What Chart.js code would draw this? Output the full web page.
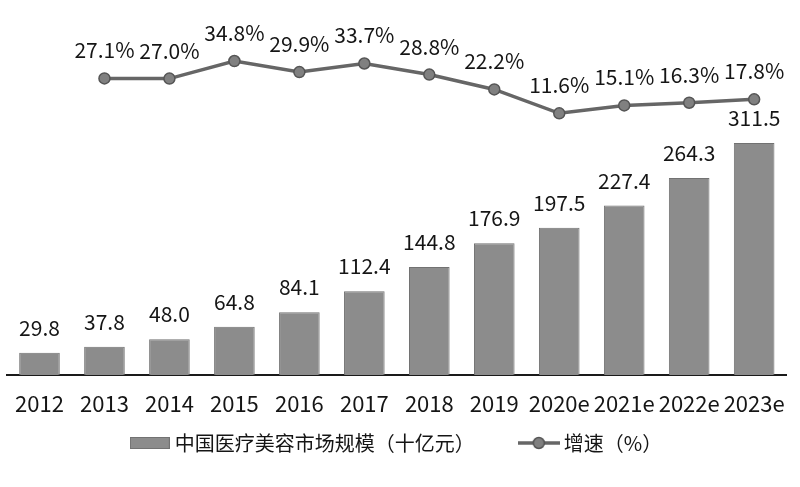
<!DOCTYPE html>
<html>
<head>
<meta charset="utf-8">
<script src="https://cdn.jsdelivr.net/npm/chart.js@4/dist/chart.umd.min.js"></script>
<style>
  html, body { margin: 0; padding: 0; background: #fff; }
  #wrap { width: 800px; height: 487px; }
</style>
</head>
<body>
<div id="wrap"><canvas id="c" width="800" height="487"></canvas></div>
<script>
const categories = ['2012','2013','2014','2015','2016','2017','2018','2019','2020e','2021e','2022e','2023e'];
const marketSize = [29.8, 37.8, 48.0, 64.8, 84.1, 112.4, 144.8, 176.9, 197.5, 227.4, 264.3, 311.5];
const growthRate = [null, 27.1, 27.0, 34.8, 29.9, 33.7, 28.8, 22.2, 11.6, 15.1, 16.3, 17.8];
const barLabel = '中国医疗美容市场规模（十亿元）';
const lineLabel = '增速（%）';

const FONT = '"Noto Sans CJK SC", "Noto Sans", sans-serif';
const TEXT = '#151515';
const BAR_FILL = '#8c8c8c';
const BAR_BORDER = '#727272';
const LINE_COLOR = '#666666';
const POINT_FILL = '#808080';
const POINT_BORDER = '#555555';

function makeBarSwatch() {
  const c = document.createElement('canvas');
  c.width = 40; c.height = 12;
  const x = c.getContext('2d');
  x.fillStyle = BAR_FILL; x.fillRect(0, 0, 40, 12);
  x.strokeStyle = BAR_BORDER; x.lineWidth = 1; x.strokeRect(0.5, 0.5, 39, 11);
  return c;
}
function makeLineSwatch() {
  const c = document.createElement('canvas');
  c.width = 42; c.height = 14;
  const x = c.getContext('2d');
  x.strokeStyle = LINE_COLOR; x.lineWidth = 3.5;
  x.beginPath(); x.moveTo(0, 7); x.lineTo(42, 7); x.stroke();
  x.beginPath(); x.arc(21, 7, 5.5, 0, Math.PI * 2);
  x.fillStyle = POINT_FILL; x.fill();
  x.strokeStyle = POINT_BORDER; x.lineWidth = 1.5; x.stroke();
  return c;
}
const barSwatch = makeBarSwatch();
const lineSwatch = makeLineSwatch();

const valueLabels = {
  id: 'valueLabels',
  afterLayout(chart) {
    // place legend row just below the x tick labels
    if (chart.legend) {
      chart.legend.top = 384;
      chart.legend.bottom = 487;
      chart.legend.height = 103;
    }
  },
  afterDatasetsDraw(chart) {
    const ctx = chart.ctx;
    ctx.save();
    ctx.font = '21px ' + FONT;
    ctx.fillStyle = TEXT;
    ctx.textAlign = 'center';
    ctx.textBaseline = 'middle';
    const barMeta = chart.getDatasetMeta(0);
    barMeta.data.forEach((el, i) => {
      ctx.fillText(marketSize[i].toFixed(1), el.x, el.y - 25);
    });
    const lineMeta = chart.getDatasetMeta(1);
    lineMeta.data.forEach((el, i) => {
      if (growthRate[i] == null) return;
      ctx.fillText(growthRate[i].toFixed(1) + '%', el.x, el.y - 28);
    });
    ctx.restore();
  }
};

new Chart(document.getElementById('c'), {
  type: 'bar',
  data: {
    labels: categories,
    datasets: [
      {
        type: 'bar',
        label: barLabel,
        data: marketSize,
        backgroundColor: BAR_FILL,
        borderColor: BAR_BORDER,
        borderWidth: 1,
        categoryPercentage: 1,
        barPercentage: 0.625,
        yAxisID: 'y',
        order: 2
      },
      {
        type: 'line',
        label: lineLabel,
        data: growthRate,
        borderColor: LINE_COLOR,
        borderWidth: 3.5,
        pointRadius: 5.5,
        pointBackgroundColor: POINT_FILL,
        pointBorderColor: POINT_BORDER,
        pointBorderWidth: 1.5,
        tension: 0,
        yAxisID: 'y1',
        order: 1
      }
    ]
  },
  options: {
    responsive: false,
    animation: false,
    devicePixelRatio: 1,
    layout: { padding: { top: 20, left: 5, right: 8, bottom: 0 } },
    plugins: {
      tooltip: { enabled: false },
      legend: {
        position: 'bottom',
        maxHeight: 30,
        labels: {
          color: TEXT,
          font: { size: 20, family: FONT },
          usePointStyle: true,
          pointStyleWidth: 30,
          padding: 49,
          generateLabels(chart) {
            return chart.data.datasets.map((ds, i) => ({
              text: ds.label,
              pointStyle: i === 0 ? barSwatch : lineSwatch,
              fillStyle: 'transparent',
              strokeStyle: 'transparent',
              lineWidth: 0,
              fontColor: TEXT,
              hidden: false,
              datasetIndex: i
            }));
          }
        }
      }
    },
    scales: {
      x: {
        grid: { display: false, drawTicks: false },
        border: { display: true, color: '#1a1a1a', width: 2 },
        ticks: { color: TEXT, font: { size: 22, family: FONT }, padding: 15, maxRotation: 0, autoSkip: false },
        afterFit(scale) { scale.height = 82; }
      },
      y: {
        display: false,
        min: 0,
        max: 476.5
      },
      y1: {
        display: false,
        position: 'right',
        min: -104.5,
        max: 53.0
      }
    }
  },
  plugins: [valueLabels]
});
</script>
</body>
</html>
